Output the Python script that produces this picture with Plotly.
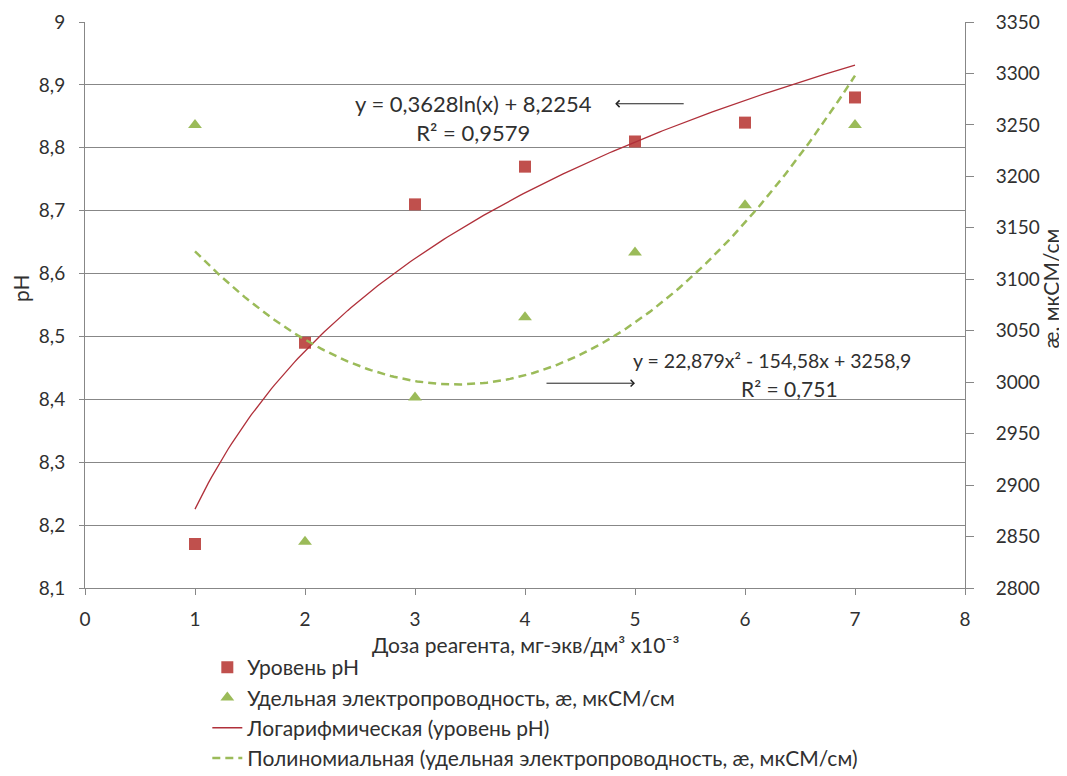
import numpy as np
import plotly.graph_objects as go

# ---- data ----
dose = [1, 2, 3, 4, 5, 6, 7]
ph_level = [8.17, 8.49, 8.71, 8.77, 8.81, 8.84, 8.88]
conductivity = [3250, 2845, 2985, 3063, 3126, 3172, 3250]

# trendline coefficients as printed on the chart
log_a, log_b = 0.3628, 8.2254                      # y = a ln(x) + b
poly_a, poly_b, poly_c = 22.879, -154.58, 3258.9   # y = a x^2 + b x + c

x_ticks = [0, 1, 2, 3, 4, 5, 6, 7, 8]

name_ph = "Уровень pH"
name_ec = "Удельная электропроводность, æ, мкСМ/см"
name_log = "Логарифмическая (уровень pH)"
name_poly = "Полиномиальная (удельная электропроводность, æ, мкСМ/см)"

title_x = "Доза реагента, мг-экв/дм³ x10⁻³"
title_y = "pH"
title_y2 = "æ, мкСМ/см"

eq_log = "y = 0,3628ln(x) + 8,2254<br>R² = 0,9579"
eq_poly = "y = 22,879x² - 154,58x + 3258,9"
r2_poly = "R² = 0,751"

# ---- trend curves ----
xs = np.linspace(min(dose), max(dose), 200)
log_curve = log_a * np.log(xs) + log_b
poly_curve = poly_a * xs**2 + poly_b * xs + poly_c

FONT = "Lato, 'Open Sans', sans-serif"
TXT = "#303030"
GRID = "#878787"

fig = go.Figure()
fig.add_trace(go.Scatter(x=dose, y=ph_level, mode="markers", name=name_ph,
                         marker=dict(symbol="square", size=12, color="#C0504D"),
                         yaxis="y"))
fig.add_trace(go.Scatter(x=dose, y=conductivity, mode="markers", name=name_ec,
                         marker=dict(symbol="triangle-up", size=12, color="#9BBB59"),
                         yaxis="y2"))
fig.add_trace(go.Scatter(x=xs, y=log_curve, mode="lines", name=name_log,
                         line=dict(color="#B0303A", width=1.3), yaxis="y"))
fig.add_trace(go.Scatter(x=xs, y=poly_curve, mode="lines", name=name_poly,
                         line=dict(color="#9BBB59", width=2.5, dash="8px,5px"),
                         yaxis="y2"))

fig.update_layout(
    width=1059, height=768,
    margin=dict(l=77, r=102, t=14, b=188, autoexpand=False),
    paper_bgcolor="white", plot_bgcolor="white",
    separators=", ",
    font=dict(family=FONT, size=19, color=TXT),
    showlegend=True,
    legend=dict(x=0.139, y=0.168, xref="paper", yref="container",
                xanchor="left", yanchor="top",
                font=dict(family=FONT, size=21, color=TXT),
                bgcolor="rgba(0,0,0,0)"),
    xaxis=dict(range=[0, 8], tickvals=x_ticks, ticks="outside", ticklen=6,
               tickcolor=GRID, showline=True, linecolor=GRID, showgrid=False,
               zeroline=False, ticklabelstandoff=8,
               tickfont=dict(family=FONT, size=19, color=TXT)),
    yaxis=dict(range=[8.1, 9], tick0=8.1, dtick=0.1, ticks="outside", ticklen=5,
               tickcolor=GRID, showline=True, linecolor=GRID, showgrid=True,
               gridcolor=GRID, gridwidth=1, zeroline=False, ticklabelstandoff=10,
               tickfont=dict(family=FONT, size=19, color=TXT)),
    yaxis2=dict(range=[2800, 3350], dtick=50, overlaying="y", side="right",
                ticks="outside", ticklen=8, tickcolor=GRID, showline=True,
                linecolor=GRID, showgrid=False, zeroline=False, ticklabelstandoff=18,
                tickfont=dict(family=FONT, size=19, color=TXT)),
)

# axis titles
fig.add_annotation(x=0.5, y=-0.1, xref="paper", yref="paper", text=title_x,
                   showarrow=False, xanchor="center", yanchor="middle",
                   font=dict(family=FONT, size=21, color=TXT))
fig.add_annotation(x=-0.074, y=0.53, xref="paper", yref="paper", text=title_y,
                   showarrow=False, textangle=-90, xanchor="center", yanchor="middle",
                   font=dict(family=FONT, size=21, color=TXT))
fig.add_annotation(x=1.097, y=0.53, xref="paper", yref="paper", text=title_y2,
                   showarrow=False, textangle=-90, xanchor="center", yanchor="middle",
                   font=dict(family=FONT, size=21, color=TXT))

# equation labels and arrows
fig.add_annotation(x=3.53, y=8.847, xref="x", yref="y", text=eq_log, showarrow=False,
                   align="center", font=dict(family=FONT, size=22, color=TXT))
fig.add_annotation(x=4.82, y=8.87, xref="x", yref="y", text="", showarrow=True,
                   ax=70, ay=0, arrowhead=4, arrowsize=1.3, arrowwidth=1,
                   arrowcolor="#202020")
fig.add_annotation(x=6.245, y=3020.6, xref="x", yref="y2", text=eq_poly, showarrow=False,
                   font=dict(family=FONT, size=19.5, color=TXT))
fig.add_annotation(x=6.4, y=2994.3, xref="x", yref="y2", text=r2_poly, showarrow=False,
                   font=dict(family=FONT, size=21, color=TXT))
fig.add_annotation(x=5.0, y=2999, xref="x", yref="y2", text="", showarrow=True,
                   ax=-90, ay=0, arrowhead=4, arrowsize=1.3, arrowwidth=1,
                   arrowcolor="#202020")

fig.write_html("out.html")
